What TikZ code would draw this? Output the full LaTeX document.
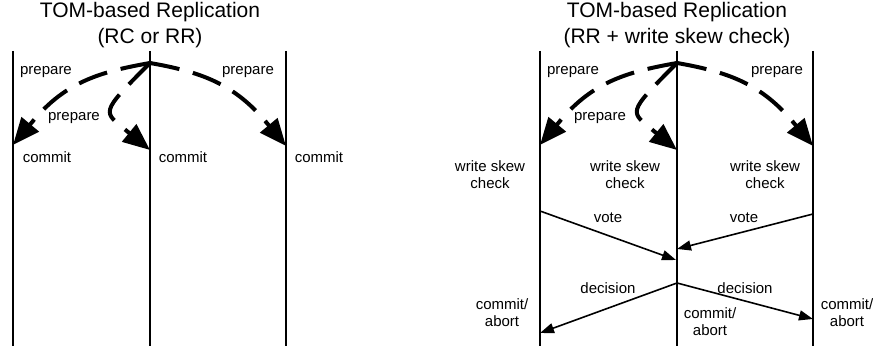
\documentclass[tikz,border=0pt]{standalone}
\usepackage{fontspec}
\setmainfont{Liberation Sans}
\usetikzlibrary{arrows.meta}

\begin{document}
\begin{tikzpicture}[x=1pt, y=1pt,
    lifeline/.style={line width=2pt},
    prep/.style={line width=4pt, dash pattern=on 30pt off 14pt, -{Triangle[length=27pt 0 0,width=22pt 0 0]}},
    msg/.style={line width=1.6pt, -{Triangle[length=14pt 0 0,width=10pt 0 0]}},
    lbl/.style={font=\fontsize{15}{17}\selectfont, align=center, inner sep=0pt},
    ttl/.style={font=\fontsize{21}{26}\selectfont, align=center, inner sep=0pt}]
    \useasboundingbox (0,0) rectangle (873,350);
    % Titles
    \node[ttl] (ltitle) at (150,325) {TOM-based Replication\\(RC or RR)};
    \node[ttl] (rtitle) at (677,325) {TOM-based Replication\\(RR + write skew check)};
    % Lifelines left
    \coordinate (lA top) at ( 13,299); \coordinate (lA bot) at ( 13,4);
    \coordinate (lB top) at (150,299); \coordinate (lB bot) at (150,4);
    \coordinate (lC top) at (286,299); \coordinate (lC bot) at (286,4);
    \draw[lifeline] (lA top) -- (lA bot);
    \draw[lifeline] (lB top) -- (lB bot);
    \draw[lifeline] (lC top) -- (lC bot);
    % Lifelines right
    \coordinate (rA top) at (540,299); \coordinate (rA bot) at (540,4);
    \coordinate (rB top) at (677,299); \coordinate (rB bot) at (677,4);
    \coordinate (rC top) at (813,299); \coordinate (rC bot) at (813,4);
    \draw[lifeline] (rA top) -- (rA bot);
    \draw[lifeline] (rB top) -- (rB bot);
    \draw[lifeline] (rC top) -- (rC bot);
    % Prepare left
    \coordinate (l apex) at (150,287);
    \coordinate (lA pre) at ( 33,229); \coordinate (lA in) at ( 13,205);
    \coordinate (lB pre) at (128,218); \coordinate (lB in) at (150,200);
    \coordinate (lC pre) at (266,228); \coordinate (lC in) at (286,204);
    \draw[prep] (l apex) to[out=190, in=50] (lA pre) -- (lA in);
    \draw[prep] (l apex) to[out=-10, in=130] (lC pre) -- (lC in);
    \draw[prep] (l apex) .. controls ( 98,235) and (103,239) .. (lB pre) -- (lB in);
    \node[lbl] (lprepA) at ( 46,278) {prepare};
    \node[lbl] (lprepC) at (248,278) {prepare};
    \node[lbl] (lprepB) at ( 74,232) {prepare};
    \node[lbl] (lcomA) at ( 47,193) {commit};
    \node[lbl] (lcomB) at (183,193) {commit};
    \node[lbl] (lcomC) at (319,193) {commit};
    % Prepare right
    \coordinate (r apex) at (677,287);
    \coordinate (rA pre) at (560,229); \coordinate (rA in) at (540,205);
    \coordinate (rB pre) at (655,218); \coordinate (rB in) at (677,200);
    \coordinate (rC pre) at (793,228); \coordinate (rC in) at (813,204);
    \draw[prep] (r apex) to[out=190, in=50] (rA pre) -- (rA in);
    \draw[prep] (r apex) to[out=-10, in=130] (rC pre) -- (rC in);
    \draw[prep] (r apex) .. controls (625,235) and (630,239) .. (rB pre) -- (rB in);
    \node[lbl] (rprepA) at (573,278) {prepare};
    \node[lbl] (rprepC) at (777,278) {prepare};
    \node[lbl] (rprepB) at (600,232) {prepare};
    \node[lbl] (rwscA) at (490,175) {write skew\\check};
    \node[lbl] (rwscB) at (625,175) {write skew\\check};
    \node[lbl] (rwscC) at (765,175) {write skew\\check};
    % Votes
    \coordinate (rA vote) at (540,139);
    \coordinate (rC vote) at (813,136);
    \coordinate (rB voteA) at (676,90);
    \coordinate (rB voteC) at (677,101);
    \draw[msg] (rA vote) -- (rB voteA);
    \draw[msg] (rC vote) -- (rB voteC);
    \node[lbl] (rvoteA) at (608,132) {vote};
    \node[lbl] (rvoteC) at (744,132) {vote};
    % Decision
    \coordinate (rB dec) at (677,67);
    \coordinate (rA dec) at (540,17);
    \coordinate (rC dec) at (813,31);
    \draw[msg] (rB dec) -- (rA dec);
    \draw[msg] (rB dec) -- (rC dec);
    \node[lbl] (rdecA) at (608,62) {decision};
    \node[lbl] (rdecC) at (745,62) {decision};
    \node[lbl] (rcaA) at (502,37) {commit/\\abort};
    \node[lbl] (rcaB) at (710,28) {commit/\\abort};
    \node[lbl] (rcaC) at (847,37) {commit/\\abort};
\end{tikzpicture}
\end{document}
